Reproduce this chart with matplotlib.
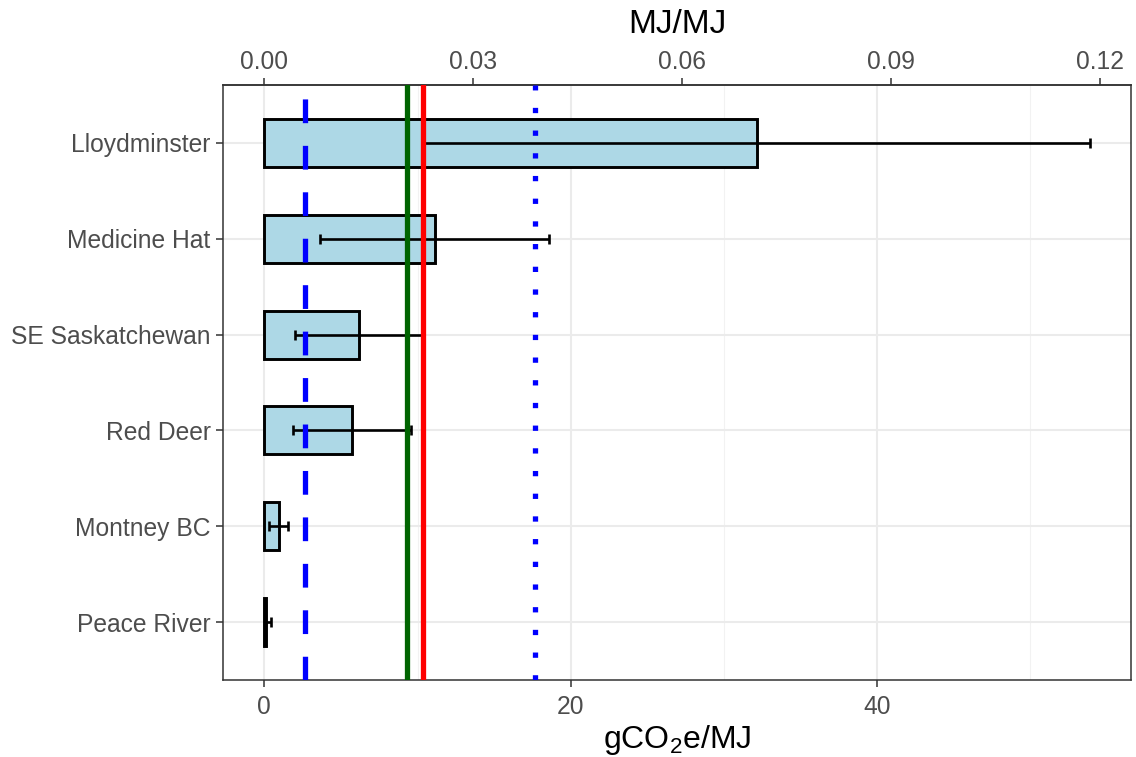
import matplotlib.pyplot as plt
import numpy as np

plt.rcParams['font.family'] = ['Liberation Sans', 'DejaVu Sans']
plt.rcParams['mathtext.default'] = 'regular'

regions = ['Lloydminster', 'Medicine Hat', 'SE Saskatchewan', 'Red Deer', 'Montney BC', 'Peace River']
means = [32.14, 11.15, 6.2, 5.72, 0.97, 0.1]
err_low = [10.38, 3.62, 2.0, 1.89, 0.33, 0.05]
err_high = [53.87, 18.6, 10.32, 9.56, 1.56, 0.43]

# reference lines (gCO2e/MJ)
ref_dashed_blue = 2.67
ref_green = 9.34
ref_red = 10.36
ref_dotted_blue = 17.65

g_per_mjmj = 454.5  # gCO2e/MJ per MJ/MJ
top_ticks = [0.0, 0.03, 0.06, 0.09, 0.12]

fig = plt.figure(figsize=(11.36, 7.57), dpi=100)
ax = fig.add_axes([223 / 1136, 1 - 680 / 757, (1131 - 223) / 1136, (680 - 85) / 757])

y = np.arange(len(regions))
means = np.array(means)
lo = means - np.array(err_low)
hi = np.array(err_high) - means

# grid
for v in [10, 30, 50]:
    ax.axvline(v, color='#F2F2F2', lw=0.8, zorder=0)
for v in [0, 20, 40]:
    ax.axvline(v, color='#EBEBEB', lw=1.5, zorder=0)
for yy in y:
    ax.axhline(yy, color='#EBEBEB', lw=1.5, zorder=0)

ax.barh(y, means, height=0.5, color='#ADD8E6', edgecolor='black', linewidth=2.1, zorder=2)
ax.errorbar(means, y, xerr=[lo, hi], fmt='none', ecolor='black', elinewidth=1.9,
            capsize=3.3, capthick=1.9, zorder=3)

ax.axvline(ref_dashed_blue, color='blue', lw=3.8, dashes=(4.5, 4.3), dash_capstyle='butt', zorder=4)
ax.axvline(ref_green, color='#006400', lw=3.8, zorder=4)
ax.axvline(ref_red, color='red', lw=3.8, zorder=4)
ax.axvline(ref_dotted_blue, color='blue', lw=3.8, dashes=(1, 3.3), dash_capstyle='butt', zorder=4)

xmax = max(err_high)
pad = 0.05 * xmax
ax.set_xlim(-pad, xmax + pad)
ax.set_ylim(len(regions) - 0.4, -0.6)

ax.set_yticks(y)
ax.set_yticklabels(regions)
ax.set_xticks([0, 20, 40])
ax.set_xlabel('gCO$_2$e/MJ', fontsize=23, labelpad=3)

for s in ax.spines.values():
    s.set_color('#333333')
    s.set_linewidth(1.1)
ax.tick_params(axis='both', colors='#333333', labelcolor='#4D4D4D', labelsize=17.7,
               length=5, width=1.1, pad=4)
ax.tick_params(axis='x', pad=5.5)

sec = ax.secondary_xaxis('top', functions=(lambda x: x / g_per_mjmj, lambda x: x * g_per_mjmj))
sec.set_xticks(top_ticks)
sec.set_xticklabels([f'{t:.2f}' for t in top_ticks])
sec.tick_params(colors='#333333', labelcolor='#4D4D4D', labelsize=17.7, length=5, width=1.1, pad=3)
sec.set_xlabel('MJ/MJ', fontsize=24, labelpad=12)
sec.spines['top'].set_color('#333333')
sec.spines['top'].set_linewidth(1.1)

fig.savefig('out.png', dpi=100)
